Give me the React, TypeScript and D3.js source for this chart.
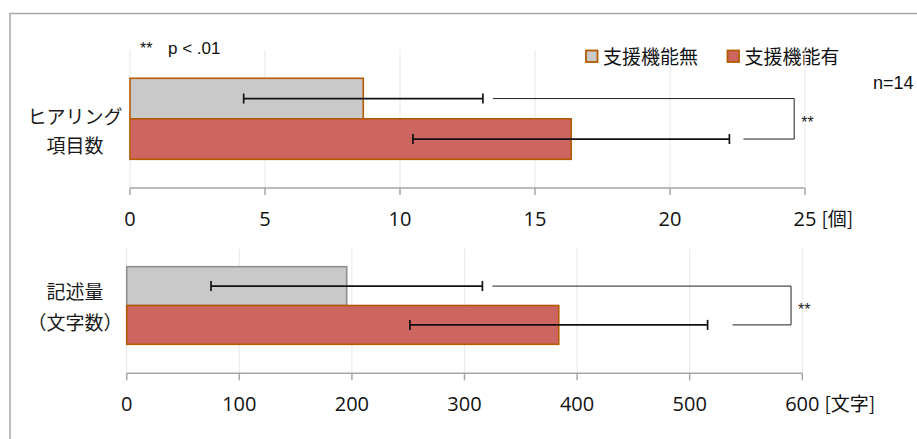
import React from "react";
import * as d3 from "d3";

// Series shown in both panels
const seriesNames = ["支援機能無", "支援機能有"];

// Panel 1: number of hearing items (mean and SD per series)
const hearingLabel = ["ヒアリング", "項目数"];
const hearingMeans = [8.64, 16.34];
const hearingSD = [4.43, 5.86];
const hearingTicks = [0, 5, 10, 15, 20, 25];
const hearingUnit = "[個]";
const hearingBracket = 24.6;

// Panel 2: amount written (characters)
const textLabel = ["記述量", "（文字数）"];
const textMeans = [195.4, 383.7];
const textSD = [120.5, 132.2];
const textTicks = [0, 100, 200, 300, 400, 500, 600];
const textUnit = "[文字]";
const textBracket = 590;

const W = 917;
const H = 439;
const FILLS = ["#c9c9c9", "#cd6560"];
const STROKES_TOP = ["#b35a00", "#b35a00"];
const STROKES_BOTTOM = ["#8f8f8f", "#b35a00"];
const CJK = "'Noto Sans CJK JP', sans-serif";
const NUM = "'Open Sans', sans-serif";
const LAT = "'Liberation Sans', Arial, sans-serif";

type PanelProps = {
  label: string[];
  means: number[];
  sds: number[];
  ticks: number[];
  unit: string;
  bracket: number;
  xRange: [number, number];
  barTop: number;
  barBottom: number;
  gridTop: number;
  axisY: number;
  strokes: string[];
  labelY: number[];
  bracketGaps: [number, number];
};

function Panel(p: PanelProps) {
  const max = p.ticks[p.ticks.length - 1];
  const x = d3.scaleLinear().domain([0, max]).range(p.xRange);
  const y = d3
    .scaleBand<string>()
    .domain(seriesNames)
    .range([p.barTop, p.barBottom])
    .paddingInner(0)
    .paddingOuter(0);
  const bw = y.bandwidth();
  const cy = seriesNames.map((s) => (y(s) as number) + bw / 2);
  const hi = p.means.map((m, i) => m + p.sds[i]);
  const bx = x(p.bracket);

  return (
    <g>
      {/* gridlines */}
      {p.ticks.map((t) => (
        <line
          key={"g" + t}
          x1={x(t)}
          x2={x(t)}
          y1={p.gridTop}
          y2={p.axisY}
          stroke="#ebebeb"
          strokeWidth={1.2}
        />
      ))}
      {/* bars */}
      {seriesNames.map((s, i) => (
        <rect
          key={s}
          x={x(0)}
          y={y(s)}
          width={x(p.means[i]) - x(0)}
          height={bw}
          fill={FILLS[i]}
          stroke={p.strokes[i]}
          strokeWidth={1.6}
        />
      ))}
      {/* error bars: mean ± SD */}
      {seriesNames.map((s, i) => {
        const x1 = x(p.means[i] - p.sds[i]);
        const x2 = x(hi[i]);
        return (
          <g key={"e" + s} stroke="#111" strokeWidth={1.7}>
            <line x1={x1} x2={x2} y1={cy[i]} y2={cy[i]} />
            <line x1={x1} x2={x1} y1={cy[i] - 5} y2={cy[i] + 5} />
            <line x1={x2} x2={x2} y1={cy[i] - 5} y2={cy[i] + 5} />
          </g>
        );
      })}
      {/* significance bracket */}
      <path
        d={`M${x(hi[0]) + p.bracketGaps[0]},${cy[0]}H${bx}V${cy[1]}H${x(hi[1]) + p.bracketGaps[1]}`}
        fill="none"
        stroke="#222"
        strokeWidth={1}
      />
      <text
        x={bx + 7}
        y={(cy[0] + cy[1]) / 2 + 9}
        fontFamily={LAT}
        fontSize={16}
        fill="#222"
      >
        **
      </text>
      {/* axis */}
      <line
        x1={x(0)}
        x2={x(max)}
        y1={p.axisY}
        y2={p.axisY}
        stroke="#a6a6a6"
        strokeWidth={1.5}
      />
      {p.ticks.map((t, i) => (
        <g key={"t" + t}>
          <line
            x1={x(t)}
            x2={x(t)}
            y1={p.axisY}
            y2={p.axisY + 7}
            stroke="#a6a6a6"
            strokeWidth={1.5}
          />
          <text
            x={x(t)}
            y={p.axisY + 38}
            textAnchor="middle"
            fontFamily={NUM}
            fontSize={20}
            fill="#111"
          >
            {t}
          </text>
          {i === p.ticks.length - 1 && (
            <text
              x={x(t) + (String(t).length * 11.4) / 2 + 5}
              y={p.axisY + 38}
              fontFamily={CJK}
              fontSize={19}
              fill="#111"
            >
              {p.unit}
            </text>
          )}
        </g>
      ))}
      {/* category label */}
      {p.label.map((l, i) => (
        <text
          key={l}
          x={75}
          y={p.labelY[i]}
          textAnchor="middle"
          fontFamily={CJK}
          fontSize={19}
          fill="#1a1a1a"
        >
          {l}
        </text>
      ))}
    </g>
  );
}

export default function App() {
  return (
    <svg
      width={W}
      height={H}
      style={{ position: "absolute", left: 0, top: 0, background: "#fff" }}
    >
      <rect width={W} height={H} fill="#fff" />
      <path d={`M10,${H}V13.5H${W}`} fill="none" stroke="#a6a6a6" strokeWidth={1.5} />

      <text x={140} y={54} fontFamily={LAT} fontSize={16} fill="#111">
        **
      </text>
      <text x={168} y={54} fontFamily={LAT} fontSize={17} fill="#111">
        p &lt; .01
      </text>

      {/* legend */}
      {seriesNames.map((s, i) => {
        const lx = 586 + i * 141.5;
        return (
          <g key={"lg" + s}>
            <rect
              x={lx}
              y={50.5}
              width={11.5}
              height={11.5}
              fill={FILLS[i]}
              stroke="#b35a00"
              strokeWidth={1.8}
            />
            <text x={lx + 17} y={64} fontFamily={CJK} fontSize={19} fill="#111">
              {s}
            </text>
          </g>
        );
      })}
      <text x={873} y={89} fontFamily={LAT} fontSize={18} fill="#111">
        n=14
      </text>

      <Panel
        label={hearingLabel}
        means={hearingMeans}
        sds={hearingSD}
        ticks={hearingTicks}
        unit={hearingUnit}
        bracket={hearingBracket}
        xRange={[130, 805]}
        barTop={78.3}
        barBottom={159.3}
        gridTop={50}
        axisY={188}
        strokes={STROKES_TOP}
        labelY={[123.5, 153]}
        bracketGaps={[10, 14]}
      />
      <Panel
        label={textLabel}
        means={textMeans}
        sds={textSD}
        ticks={textTicks}
        unit={textUnit}
        bracket={textBracket}
        xRange={[126.7, 802.3]}
        barTop={266.7}
        barBottom={344.3}
        gridTop={249}
        axisY={373.3}
        strokes={STROKES_BOTTOM}
        labelY={[299, 330]}
        bracketGaps={[10, 25]}
      />
    </svg>
  );
}
